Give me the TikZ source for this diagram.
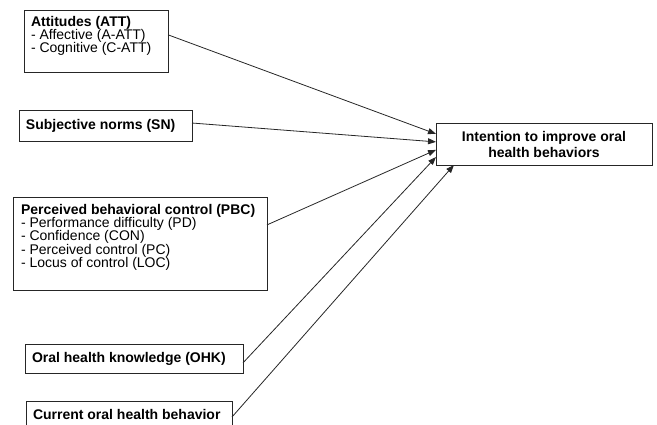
\documentclass[tikz,border=0pt]{standalone}
\usepackage{fontspec}
\setmainfont{Liberation Sans}
\usetikzlibrary{arrows.meta,calc}
\tikzset{
  box/.style={draw=black!85, line width=0.8pt, inner xsep=7pt, inner ysep=6pt,
    anchor=north west, outer sep=0pt, font=\fontsize{14}{13.4}\selectfont},
  conn/.style={draw=black!85, line width=0.8pt, -{Triangle[length=8pt,width=6pt]}}
}
\begin{document}
\begin{tikzpicture}[x=1pt,y=-1pt]
\useasboundingbox (0,0) rectangle (657,425);
\clip (0,0) rectangle (657,425);
\node[box] (att) at (24,10) {\parbox[c][50pt][t]{130pt}{\textbf{Attitudes (ATT)}\\- Affective (A-ATT)\\- Cognitive (C-ATT)}};
\node[box] (sn) at (19,110) {\parbox[c][19pt][c]{159pt}{\textbf{Subjective norms (SN)}}};
\node[box, inner xsep=8pt, inner ysep=7pt] (pbc) at (13,197) {\parbox[c][79pt][t]{238pt}{\textbf{Perceived behavioral control (PBC)}\\- Performance difficulty (PD)\\- Confidence (CON)\\- Perceived control (PC)\\- Locus of control (LOC)}};
\node[box] (ohk) at (25,344) {\parbox[c][17pt][c]{204pt}{\textbf{Oral health knowledge (OHK)}}};
\node[box, inner ysep=8pt] (cur) at (26,401) {\parbox[c][24pt][t]{192pt}{\textbf{Current oral health behavior}}};
\node[box, inner sep=0pt, minimum width=216pt, minimum height=42pt, align=center,
  font=\fontsize{14}{16}\selectfont\bfseries] (int) at (436,123) {Intention to improve oral\\health behaviors};
\draw[conn] ($(att.north east)!0.4!(att.south east)$) -- ($(int.north west)!0.26!(int.south west)$);
\draw[conn] ($(sn.north east)!0.42!(sn.south east)$) -- ($(int.north west)!0.45!(int.south west)$);
\draw[conn] ($(pbc.north east)!0.3!(pbc.south east)$) -- ($(int.north west)!0.64!(int.south west)$);
\draw[conn] ($(ohk.north east)!0.65!(ohk.south east)$) -- ($(int.north west)!0.81!(int.south west)$);
\draw[conn] ([yshift=-16pt]cur.north east) -- ($(int.south west)!0.083!(int.south east)$);
\end{tikzpicture}
\end{document}
